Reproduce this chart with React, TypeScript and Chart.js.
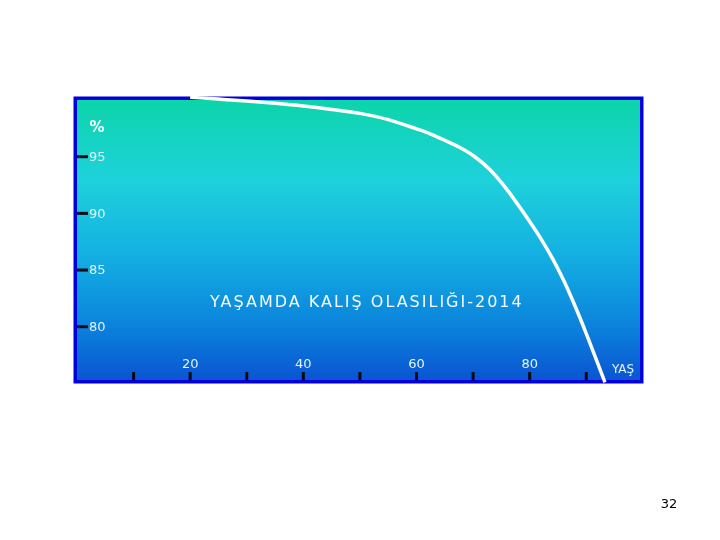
import React, { useEffect, useRef } from "react";
import { Chart, registerables } from "chart.js";

Chart.register(...registerables);

const ages = [20, 25, 30, 35, 40, 45, 50, 55, 60, 62.5, 65, 67.5, 70, 73, 76, 79, 82, 84, 86, 88, 90, 93.3];
const survival = [100.24, 100.08, 99.91, 99.71, 99.47, 99.17, 98.82, 98.27, 97.45, 97.0, 96.45, 95.85, 95.1, 93.85, 92.1, 90.0, 87.75, 86.05, 84.1, 81.85, 79.4, 75.1];
const xTickMarks = [10, 20, 30, 40, 50, 60, 70, 80, 90];
const xTickLabels = [20, 40, 60, 80];
const yTicks = [80, 85, 90, 95];
const yAxisLabel = "%";
const xAxisLabel = "YAŞ";
const title = "YAŞAMDA KALIŞ OLASILIĞI-2014";
const pageNumber = "32";

const decor = {
  id: "decor",
  beforeDraw(chart: any) {
    const { ctx, chartArea: a } = chart;
    ctx.save();
    ctx.fillStyle = "#ffffff";
    ctx.fillRect(0, 0, chart.width, chart.height);
    const g = ctx.createLinearGradient(0, a.top, 0, a.bottom);
    g.addColorStop(0, "#0cd4aa");
    g.addColorStop(0.28, "#1ed2da");
    g.addColorStop(0.55, "#14b0e2");
    g.addColorStop(0.8, "#0b84dc");
    g.addColorStop(1, "#0a55d2");
    ctx.fillStyle = g;
    ctx.fillRect(a.left, a.top, a.right - a.left, a.bottom - a.top);

    const xs = chart.scales.x;
    const ys = chart.scales.y;
    ctx.fillStyle = "#0a0a14";
    yTicks.forEach((v) => {
      const y = ys.getPixelForValue(v);
      ctx.fillRect(a.left, y - 1.5, 11, 3);
    });
    ctx.font = "13px 'DejaVu Sans'";
    ctx.fillStyle = "#e2f4ff";
    ctx.textAlign = "left";
    ctx.textBaseline = "middle";
    yTicks.forEach((v) => {
      const y = ys.getPixelForValue(v);
      ctx.fillText(String(v), a.left + 12, y + 1);
    });
    ctx.fillStyle = "#0a0a14";
    xTickMarks.forEach((v) => {
      const x = xs.getPixelForValue(v);
      ctx.fillRect(x - 1.5, a.bottom - 8, 3, 11);
    });
    ctx.fillStyle = "#e2f4ff";
    ctx.textAlign = "center";
    xTickLabels.forEach((v) => {
      const x = xs.getPixelForValue(v);
      ctx.fillText(String(v), x, a.bottom - 15);
    });
    ctx.font = "12px 'DejaVu Sans'";
    ctx.fillText(xAxisLabel, 623, a.bottom - 10);
    ctx.font = "bold 15px 'DejaVu Sans'";
    ctx.fillStyle = "#ffffff";
    ctx.fillText(yAxisLabel, 97, 128);
    ctx.fillStyle = "#f4faff";
    ctx.textAlign = "left";
    ctx.font = "16px 'DejaVu Sans'";
    (ctx as any).letterSpacing = "2px";
    ctx.fillText(title, 210, 303);
    (ctx as any).letterSpacing = "0px";
    ctx.fillStyle = "#000000";
    ctx.font = "13px 'DejaVu Sans'";
    ctx.textAlign = "center";
    ctx.fillText(pageNumber, 669, 505);
    ctx.restore();
  },
  beforeDatasetsDraw(chart: any) {
    const { ctx, chartArea: a } = chart;
    ctx.save();
    ctx.strokeStyle = "#0000dc";
    ctx.lineWidth = 3.5;
    ctx.strokeRect(a.left - 1.75, a.top - 1.75, a.right - a.left + 3.5, a.bottom - a.top + 3.5);
    ctx.restore();
  },
};

export default function App() {
  const ref = useRef<HTMLCanvasElement>(null);
  useEffect(() => {
    if (!ref.current) return;
    const chart = new Chart(ref.current, {
      type: "scatter",
      data: {
        datasets: [
          {
            data: ages.map((a, i) => ({ x: a, y: survival[i] })),
            showLine: true,
            borderColor: "#ffffff",
            borderWidth: 3.5,
            pointRadius: 0,
            cubicInterpolationMode: "monotone",
            clip: false,
          } as any,
        ],
      },
      options: {
        responsive: false,
        animation: false,
        layout: { padding: { left: 77, top: 100, right: 80, bottom: 160 } },
        plugins: { legend: { display: false }, tooltip: { enabled: false } },
        scales: {
          x: { type: "linear", min: 0, max: 99.5, display: false },
          y: { type: "linear", min: 75.3, max: 100, display: false },
        },
      },
      plugins: [decor],
    });
    return () => chart.destroy();
  }, []);
  return (
    <div style={{ position: "fixed", left: 0, top: 0, width: 720, height: 540 }}>
      <canvas ref={ref} width={720} height={540} />
    </div>
  );
}
